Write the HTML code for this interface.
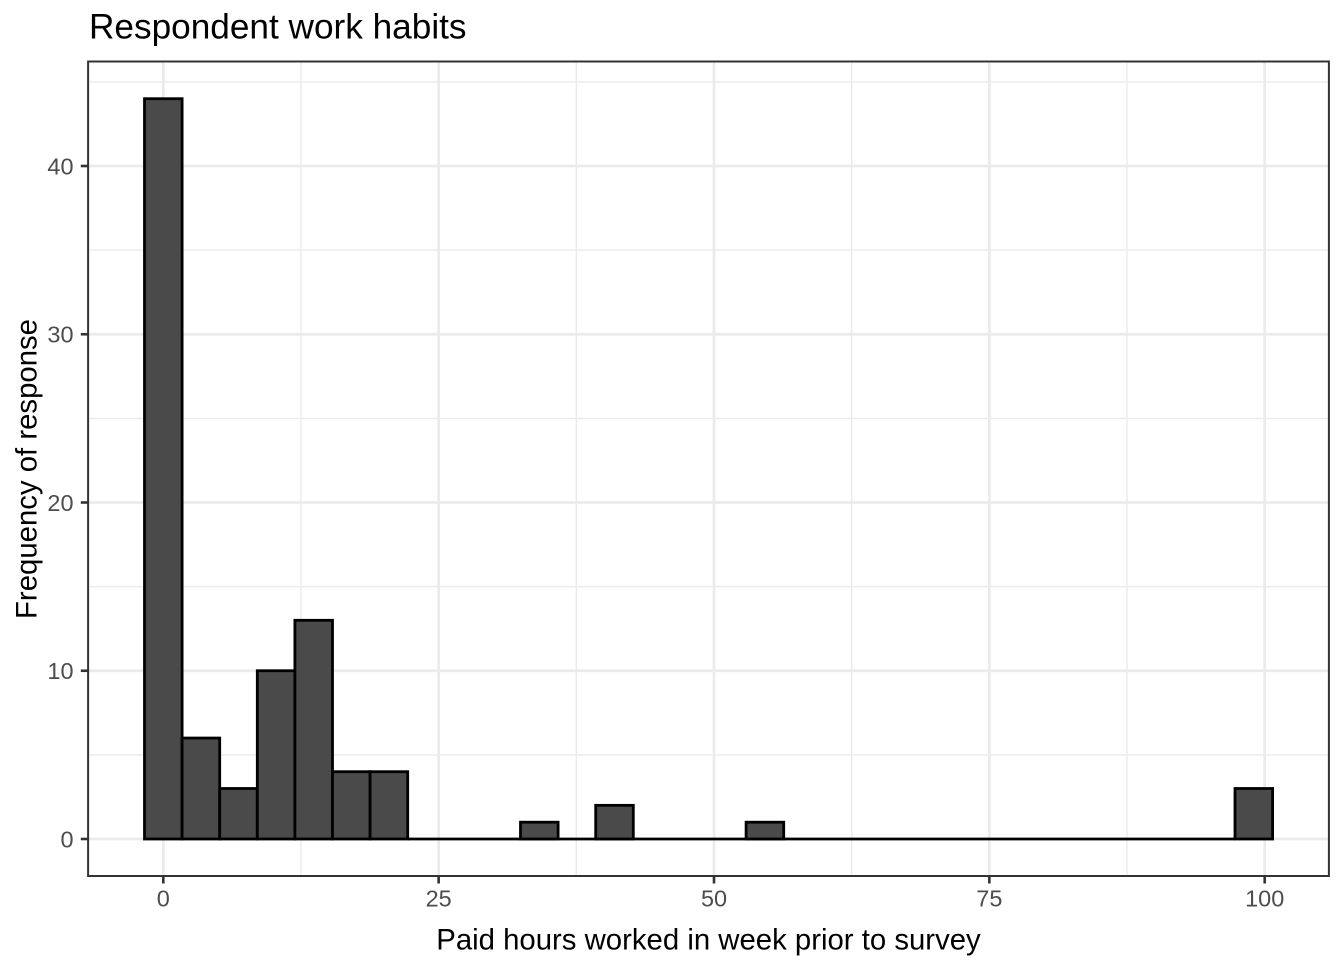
<!DOCTYPE html>
<html>
<head>
<meta charset="utf-8">
<style>
html,body{margin:0;padding:0;background:#fff;}
svg{display:block;}
text{font-family:"Liberation Sans",Arial,Helvetica,sans-serif;}
</style>
</head>
<body>
<svg width="1344" height="960" viewBox="0 0 1344 960" xmlns="http://www.w3.org/2000/svg">
<rect x="0" y="0" width="1344" height="960" fill="#ffffff"/>
<!-- minor grid -->
<g stroke="#EBEBEB" stroke-width="1.4" fill="none">
<line x1="300.98" y1="61.5" x2="300.98" y2="876"/>
<line x1="576.3" y1="61.5" x2="576.3" y2="876"/>
<line x1="851.7" y1="61.5" x2="851.7" y2="876"/>
<line x1="1127.0" y1="61.5" x2="1127.0" y2="876"/>
<line x1="88.1" y1="754.9" x2="1328.9" y2="754.9"/>
<line x1="88.1" y1="586.6" x2="1328.9" y2="586.6"/>
<line x1="88.1" y1="418.4" x2="1328.9" y2="418.4"/>
<line x1="88.1" y1="250.1" x2="1328.9" y2="250.1"/>
<line x1="88.1" y1="81.9" x2="1328.9" y2="81.9"/>
</g>
<!-- major grid -->
<g stroke="#EBEBEB" stroke-width="2.7" fill="none">
<line x1="163.3" y1="61.5" x2="163.3" y2="876"/>
<line x1="438.65" y1="61.5" x2="438.65" y2="876"/>
<line x1="714.0" y1="61.5" x2="714.0" y2="876"/>
<line x1="989.35" y1="61.5" x2="989.35" y2="876"/>
<line x1="1264.7" y1="61.5" x2="1264.7" y2="876"/>
<line x1="88.1" y1="839" x2="1328.9" y2="839"/>
<line x1="88.1" y1="670.75" x2="1328.9" y2="670.75"/>
<line x1="88.1" y1="502.5" x2="1328.9" y2="502.5"/>
<line x1="88.1" y1="334.25" x2="1328.9" y2="334.25"/>
<line x1="88.1" y1="166" x2="1328.9" y2="166"/>
</g>
<!-- zero-count baseline -->
<line x1="407.7" y1="839" x2="1235.0" y2="839" stroke="#000" stroke-width="2.8"/>
<!-- bars -->
<g fill="#4A4A4A" stroke="#000000" stroke-width="2.8" stroke-linejoin="miter">
<rect x="144.5" y="98.7" width="37.6" height="740.3"/>
<rect x="182.1" y="738.05" width="37.6" height="100.95"/>
<rect x="219.7" y="788.5" width="37.6" height="50.5"/>
<rect x="257.3" y="670.75" width="37.6" height="168.25"/>
<rect x="294.9" y="620.3" width="37.6" height="218.7"/>
<rect x="332.5" y="771.7" width="37.6" height="67.3"/>
<rect x="370.1" y="771.7" width="37.6" height="67.3"/>
<rect x="520.5" y="822.2" width="37.6" height="16.8"/>
<rect x="595.7" y="805.35" width="37.6" height="33.65"/>
<rect x="746.1" y="822.2" width="37.6" height="16.8"/>
<rect x="1235.0" y="788.5" width="37.6" height="50.5"/>
</g>
<!-- panel border -->
<rect x="88.1" y="61.5" width="1240.8" height="814.5" fill="none" stroke="#333333" stroke-width="2"/>
<!-- ticks -->
<g stroke="#333333" stroke-width="2.6">
<line x1="163.3" y1="876" x2="163.3" y2="883.5"/>
<line x1="438.65" y1="876" x2="438.65" y2="883.5"/>
<line x1="714.0" y1="876" x2="714.0" y2="883.5"/>
<line x1="989.35" y1="876" x2="989.35" y2="883.5"/>
<line x1="1264.7" y1="876" x2="1264.7" y2="883.5"/>
<line x1="80.8" y1="839" x2="88.1" y2="839"/>
<line x1="80.8" y1="670.75" x2="88.1" y2="670.75"/>
<line x1="80.8" y1="502.5" x2="88.1" y2="502.5"/>
<line x1="80.8" y1="334.25" x2="88.1" y2="334.25"/>
<line x1="80.8" y1="166" x2="88.1" y2="166"/>
</g>
<!-- x tick labels -->
<g fill="#4D4D4D" font-size="23.47" text-anchor="middle">
<text x="163.3" y="906.5">0</text>
<text x="438.65" y="906.5">25</text>
<text x="714.0" y="906.5">50</text>
<text x="989.35" y="906.5">75</text>
<text x="1264.7" y="906.5">100</text>
</g>
<!-- y tick labels -->
<g fill="#4D4D4D" font-size="23.47" text-anchor="end">
<text x="73.5" y="847.3">0</text>
<text x="73.5" y="679.05">10</text>
<text x="73.5" y="510.8">20</text>
<text x="73.5" y="342.55">30</text>
<text x="73.5" y="174.3">40</text>
</g>
<!-- axis titles -->
<text x="708.5" y="949.5" font-size="29.33" fill="#000" text-anchor="middle">Paid hours worked in week prior to survey</text>
<text transform="translate(36.5,469) rotate(-90)" font-size="29.33" fill="#000" text-anchor="middle">Frequency of response</text>
<!-- title -->
<text x="89" y="38.3" font-size="35.2" fill="#000">Respondent work habits</text>
</svg>
</body>
</html>
